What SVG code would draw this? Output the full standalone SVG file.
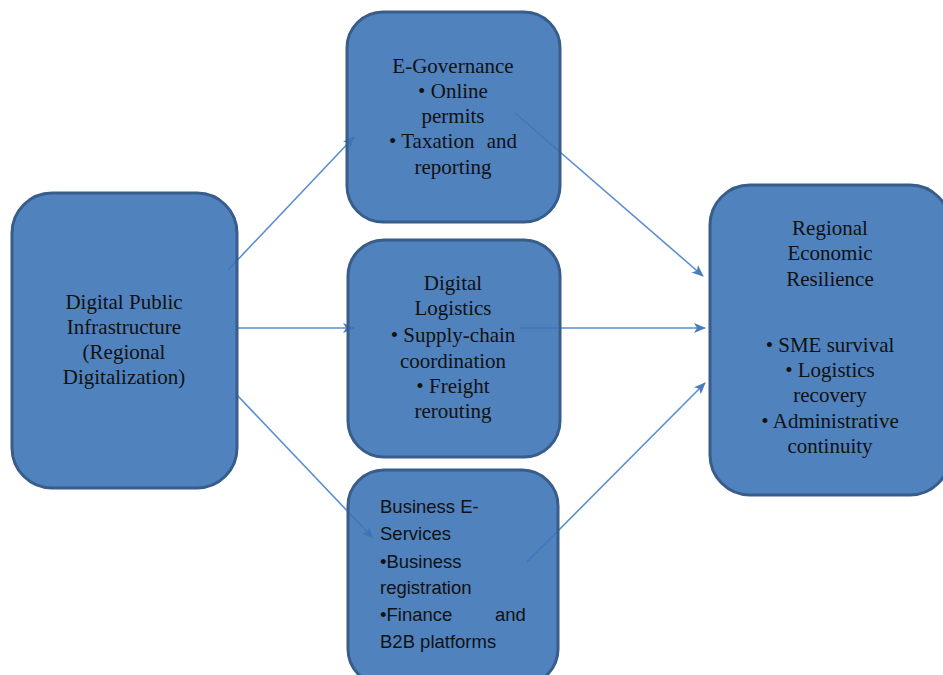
<svg xmlns="http://www.w3.org/2000/svg" width="943" height="675" viewBox="0 0 943 675">
<style>
.box{fill:#3D74B7;fill-opacity:0.9;stroke:#385D8A;stroke-width:3}
.serif{font-family:"Liberation Serif","Tinos","Times New Roman","DejaVu Serif",serif;font-size:21px;fill:#111;text-anchor:middle}
.sans{font-family:"Liberation Sans",Arial,sans-serif;font-size:18.5px;fill:#111}
.conn{stroke:#5A8ED0;stroke-width:1.6;fill:none;marker-end:url(#ah)}
</style>
<defs>
<marker id="ah" markerWidth="12" markerHeight="10" refX="11" refY="5" orient="auto" markerUnits="userSpaceOnUse">
<path d="M0,0 L12,5 L0,10 L3,5 z" fill="#4A7EBB"/>
</marker>
</defs>
<rect width="943" height="675" fill="#fff"/>
<g id="connectors">
<line class="conn" x1="228" y1="270" x2="354" y2="137"/>
<line class="conn" x1="237" y1="328" x2="354" y2="328"/>
<line class="conn" x1="237" y1="395" x2="373" y2="538"/>
<line class="conn" x1="515" y1="113" x2="703" y2="276"/>
<line class="conn" x1="520" y1="328" x2="705" y2="328"/>
<line class="conn" x1="527" y1="562" x2="705" y2="383"/>
</g>
<g id="node-dpi">
<rect class="box" x="12" y="193" width="225" height="295" rx="40"/>
<text class="serif"><tspan x="124" y="309">Digital Public</tspan><tspan x="124" y="334">Infrastructure</tspan><tspan x="124" y="359">(Regional</tspan><tspan x="124" y="384">Digitalization)</tspan></text>
</g>
<g id="node-egov">
<rect class="box" x="347" y="12" width="213" height="210" rx="36"/>
<text class="serif"><tspan x="453" y="73">E-Governance</tspan><tspan x="453" y="98">• Online</tspan><tspan x="453" y="123">permits</tspan><tspan x="453" y="148">• Taxation<tspan dx="7"> and</tspan></tspan><tspan x="453" y="174">reporting</tspan></text>
</g>
<g id="node-logistics">
<rect class="box" x="348" y="240" width="212" height="217" rx="36"/>
<text class="serif"><tspan x="453" y="290">Digital</tspan><tspan x="453" y="315">Logistics</tspan><tspan x="453" y="342">• Supply-chain</tspan><tspan x="453" y="368">coordination</tspan><tspan x="453" y="393">• Freight</tspan><tspan x="453" y="418">rerouting</tspan></text>
</g>
<g id="node-business">
<rect class="box" x="348" y="470" width="210" height="215" rx="36"/>
<text class="sans"><tspan x="380" y="513">Business E-</tspan><tspan x="380" y="540">Services</tspan><tspan x="380" y="568">•Business</tspan><tspan x="380" y="594">registration</tspan><tspan x="380" y="621">•Finance</tspan><tspan x="495" y="621">and</tspan><tspan x="380" y="648">B2B platforms</tspan></text>
</g>
<g id="node-resilience">
<rect class="box" x="710" y="185" width="240" height="310" rx="40"/>
<text class="serif"><tspan x="830" y="235">Regional</tspan><tspan x="830" y="260">Economic</tspan><tspan x="830" y="286">Resilience</tspan><tspan x="830" y="352">• SME survival</tspan><tspan x="830" y="377">• Logistics</tspan><tspan x="830" y="402">recovery</tspan><tspan x="830" y="428">• Administrative</tspan><tspan x="830" y="453">continuity</tspan></text>
</g>
</svg>
